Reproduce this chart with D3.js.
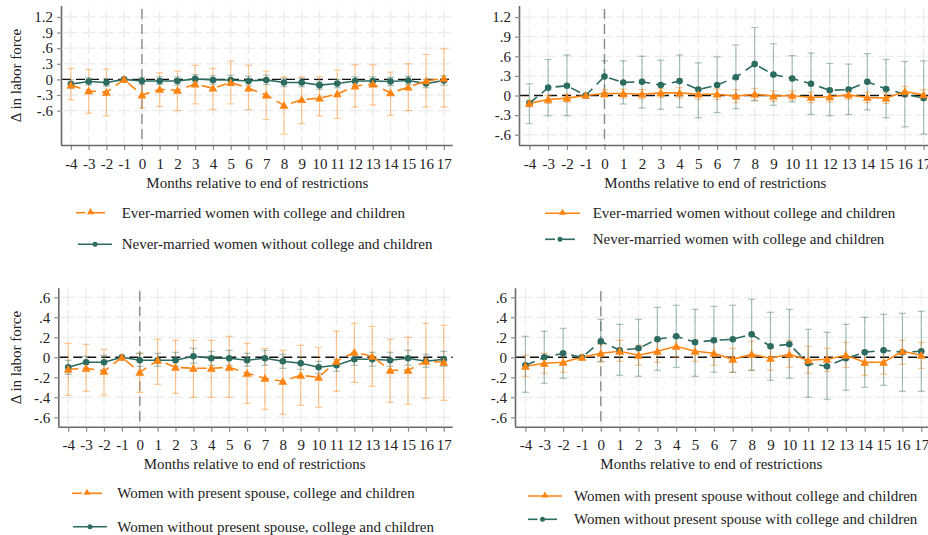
<!DOCTYPE html>
<html>
<head>
<meta charset="utf-8">
<script src="https://cdn.jsdelivr.net/npm/d3@7"></script>
<style>
  body { margin: 0; background: #fff; }
  svg { display: block; font-family: "Liberation Serif", "DejaVu Serif", serif; }
</style>
</head>
<body>
<div id="chart"></div>
<script>
// Event-study plots: change in labor force around end of restrictions

const months = [-4, -3, -2, -1, 0, 1, 2, 3, 4, 5, 6, 7, 8, 9, 10, 11, 12, 13, 14, 15, 16, 17];

const topTicks = [-0.6, -0.3, 0, 0.3, 0.6, 0.9, 1.2];
const topTickLabels = ["-.6", "-.3", "0", ".3", ".6", ".9", "1.2"];
const botTicks = [-0.6, -0.4, -0.2, 0, 0.2, 0.4, 0.6];
const botTickLabels = ["-.6", "-.4", "-.2", "0", ".2", ".4", ".6"];

// Panel 1 (haut gauche)
const p1OrangeEst = [-0.11, -0.22, -0.25, 0, -0.30, -0.19, -0.21, -0.09, -0.17, -0.06, -0.17, -0.30, -0.50, -0.39, -0.36, -0.28, -0.13, -0.09, -0.26, -0.15, -0.03, 0.02];
const p1OrangeLo  = [-0.39, -0.65, -0.70, null, -0.55, -0.52, -0.60, -0.47, -0.58, -0.47, -0.58, -0.77, -1.05, -0.85, -0.70, -0.75, -0.53, -0.49, -0.69, -0.60, -0.53, -0.53];
const p1OrangeHi  = [0.21, 0.19, 0.20, null, -0.03, 0.13, 0.16, 0.27, 0.21, 0.35, 0.27, 0.16, 0.05, 0.05, 0.05, 0.18, 0.28, 0.28, 0.14, 0.30, 0.48, 0.59];
const p1TealEst = [-0.09, -0.04, -0.06, 0, -0.03, -0.03, -0.03, 0.01, -0.01, -0.01, -0.03, -0.01, -0.06, -0.06, -0.11, -0.08, -0.03, -0.03, -0.04, -0.02, -0.08, -0.02];
const p1TealLo  = [-0.17, -0.11, -0.13, null, -0.10, -0.10, -0.11, -0.07, -0.09, -0.09, -0.11, -0.10, -0.14, -0.14, -0.19, -0.16, -0.11, -0.11, -0.12, -0.10, -0.16, -0.11];
const p1TealHi  = [-0.01, 0.03, 0.01, null, 0.04, 0.05, 0.05, 0.09, 0.07, 0.08, 0.06, 0.08, 0.02, 0.02, -0.03, 0.00, 0.05, 0.05, 0.04, 0.06, 0.00, 0.07];

// Panel 2 (haut droite)
const p2OrangeEst = [-0.12, -0.06, -0.04, 0, 0.03, 0.03, 0.02, 0.04, 0.04, 0.02, 0.02, -0.01, 0.02, -0.01, 0.00, -0.03, -0.02, 0.01, -0.03, -0.04, 0.06, 0.01];
const p2OrangeLo  = [-0.17, -0.12, -0.10, null, -0.03, -0.04, -0.05, -0.03, -0.04, -0.06, -0.06, -0.11, -0.07, -0.09, -0.07, -0.11, -0.10, -0.06, -0.11, -0.12, -0.02, -0.07];
const p2OrangeHi  = [-0.07, 0.00, 0.02, null, 0.09, 0.10, 0.09, 0.11, 0.12, 0.10, 0.10, 0.09, 0.11, 0.07, 0.07, 0.05, 0.06, 0.08, 0.05, 0.04, 0.14, 0.09];
const p2TealEst = [-0.12, 0.12, 0.15, 0, 0.29, 0.20, 0.21, 0.16, 0.22, 0.09, 0.16, 0.28, 0.48, 0.32, 0.26, 0.18, 0.08, 0.09, 0.21, 0.10, 0.02, -0.04];
const p2TealLo  = [-0.43, -0.31, -0.31, null, 0.05, -0.13, -0.19, -0.21, -0.18, -0.34, -0.26, -0.20, -0.08, -0.15, -0.10, -0.29, -0.31, -0.29, -0.22, -0.34, -0.48, -0.59];
const p2TealHi  = [0.18, 0.55, 0.62, null, 0.53, 0.53, 0.60, 0.54, 0.62, 0.50, 0.59, 0.77, 1.04, 0.79, 0.61, 0.65, 0.49, 0.48, 0.64, 0.55, 0.52, 0.53];

// Panel 3 (bas gauche)
const p3OrangeEst = [-0.12, -0.11, -0.14, 0, -0.15, -0.03, -0.10, -0.11, -0.11, -0.10, -0.16, -0.21, -0.24, -0.18, -0.20, -0.04, 0.05, 0.01, -0.13, -0.13, -0.04, -0.05];
const p3OrangeLo  = [-0.38, -0.34, -0.38, null, -0.35, -0.27, -0.36, -0.40, -0.40, -0.40, -0.46, -0.52, -0.57, -0.48, -0.50, -0.34, -0.25, -0.29, -0.45, -0.47, -0.41, -0.43];
const p3OrangeHi  = [0.14, 0.13, 0.08, null, 0.04, 0.18, 0.17, 0.17, 0.17, 0.21, 0.14, 0.09, 0.07, 0.12, 0.10, 0.26, 0.34, 0.31, 0.18, 0.20, 0.34, 0.32];
const p3TealEst = [-0.10, -0.05, -0.05, 0, -0.03, -0.03, -0.03, 0.01, -0.01, -0.01, -0.03, -0.01, -0.04, -0.06, -0.10, -0.08, -0.02, -0.02, -0.03, -0.01, -0.04, -0.02];
const p3TealLo  = [-0.17, -0.11, -0.12, null, -0.09, -0.09, -0.09, -0.06, -0.08, -0.08, -0.09, -0.08, -0.11, -0.12, -0.16, -0.14, -0.08, -0.09, -0.09, -0.08, -0.10, -0.09];
const p3TealHi  = [-0.03, 0.01, 0.02, null, 0.04, 0.04, 0.05, 0.09, 0.06, 0.07, 0.04, 0.07, 0.03, 0.00, -0.04, -0.02, 0.05, 0.05, 0.05, 0.07, 0.03, 0.06];

// Panel 4 (bas droite)
const p4OrangeEst = [-0.09, -0.06, -0.05, 0, 0.04, 0.06, 0.02, 0.06, 0.11, 0.06, 0.04, -0.02, 0.03, -0.01, 0.03, -0.03, -0.02, 0.02, -0.05, -0.05, 0.06, 0.02];
const p4OrangeLo  = [-0.19, -0.16, -0.15, null, -0.05, -0.04, -0.08, -0.05, 0.00, -0.04, -0.08, -0.15, -0.13, -0.13, -0.10, -0.16, -0.14, -0.10, -0.18, -0.17, -0.07, -0.11];
const p4OrangeHi  = [0.02, 0.04, 0.05, null, 0.13, 0.17, 0.12, 0.16, 0.22, 0.17, 0.15, 0.09, 0.16, 0.09, 0.17, 0.11, 0.09, 0.15, 0.07, 0.07, 0.17, 0.15];
const p4TealEst = [-0.08, 0.00, 0.04, 0, 0.16, 0.07, 0.09, 0.18, 0.21, 0.15, 0.17, 0.18, 0.23, 0.11, 0.13, -0.06, -0.09, -0.01, 0.05, 0.07, 0.05, 0.06];
const p4TealLo  = [-0.35, -0.26, -0.21, null, -0.04, -0.18, -0.19, -0.13, -0.10, -0.19, -0.15, -0.15, -0.13, -0.23, -0.21, -0.40, -0.42, -0.33, -0.30, -0.28, -0.34, -0.34];
const p4TealHi  = [0.21, 0.26, 0.29, null, 0.38, 0.33, 0.38, 0.50, 0.52, 0.48, 0.51, 0.52, 0.58, 0.45, 0.48, 0.28, 0.25, 0.33, 0.40, 0.43, 0.44, 0.46];

const legend1 = ["Ever-married women with college and children", "Never-married women without college and children"];
const legend2 = ["Ever-married women without college and children", "Never-married women with college and children"];
const legend3 = ["Women with present spouse, college and children", "Women without present spouse, college and children"];
const legend4 = ["Women with present spouse without college and children", "Women without present spouse with college and children"];

const ORANGE = "#ff8412";
const TEAL = "#2c6b60";
const DASH = "10,6";
const FONT = "15px";

const width = 928, height = 535;
const svg = d3.select("#chart").append("svg")
  .attr("width", width)
  .attr("height", height);

function series(est, lo, hi) {
  return months.map((m, i) => ({ m: m, v: est[i], lo: lo[i], hi: hi[i] }));
}

const panels = [
  {
    x0: 62, x1: 452.7, y0: 6, y1: 145, yDom: [-1.26, 1.41],
    ticks: topTicks, tickLabels: topTickLabels, yTitle: true,
    orange: series(p1OrangeEst, p1OrangeLo, p1OrangeHi), orangeDash: true,
    teal: series(p1TealEst, p1TealLo, p1TealHi), tealDash: false,
    legend: legend1, legRows: [212.7, 244.3], keyX: [[76, 105], [78, 112]], textX: 121.7
  },
  {
    x0: 520, x1: 933, y0: 6, y1: 145, yDom: [-0.757, 1.369],
    ticks: topTicks, tickLabels: topTickLabels, yTitle: false,
    orange: series(p2OrangeEst, p2OrangeLo, p2OrangeHi), orangeDash: false,
    teal: series(p2TealEst, p2TealLo, p2TealHi), tealDash: true,
    legend: legend2, legRows: [213.3, 239.3], keyX: [[545, 580], [545, 575]], textX: 592.7
  },
  {
    x0: 59.3, x1: 452.7, y0: 288.3, y1: 426.7, yDom: [-0.694, 0.69],
    ticks: botTicks, tickLabels: botTickLabels, yTitle: true,
    orange: series(p3OrangeEst, p3OrangeLo, p3OrangeHi), orangeDash: true,
    teal: series(p3TealEst, p3TealLo, p3TealHi), tealDash: false,
    legend: legend3, legRows: [493.3, 526.7], keyX: [[72, 102], [73, 107]], textX: 117.3
  },
  {
    x0: 516, x1: 930.7, y0: 288.3, y1: 426.7, yDom: [-0.694, 0.69],
    ticks: botTicks, tickLabels: botTickLabels, yTitle: false,
    orange: series(p4OrangeEst, p4OrangeLo, p4OrangeHi), orangeDash: false,
    teal: series(p4TealEst, p4TealLo, p4TealHi), tealDash: true,
    legend: legend4, legRows: [496, 519.3], keyX: [[528, 562], [528, 557]], textX: 574
  }
];

const triangle = d3.symbol().type(d3.symbolTriangle).size(34);

panels.forEach(drawPanel);

function drawPanel(p) {
  const x = d3.scaleLinear().domain([-4.5, 17.5]).range([p.x0, p.x1]);
  const y = d3.scaleLinear().domain(p.yDom).range([p.y1, p.y0]);
  const g = svg.append("g");
  const stepX = x(1) - x(0);
  const stepY = y(p.ticks[0]) - y(p.ticks[1]);

  // Grille
  g.append("g").selectAll("line")
    .data(months)
    .join("line")
    .attr("x1", d => x(d)).attr("x2", d => x(d))
    .attr("y1", p.y1).attr("y2", p.y0)
    .attr("stroke", "#ececec")
    .attr("stroke-width", 1.3)
    .attr("stroke-dasharray", `${stepY - 4},4`)
    .attr("stroke-dashoffset", (stepY - 4) / 2 - (p.y1 - y(p.ticks[0])) % stepY + stepY);

  g.append("g").selectAll("line")
    .data(p.ticks.filter(t => t !== 0))
    .join("line")
    .attr("x1", p.x0).attr("x2", p.x1)
    .attr("y1", d => y(d)).attr("y2", d => y(d))
    .attr("stroke", "#ececec")
    .attr("stroke-width", 1.3)
    .attr("stroke-dasharray", `${stepX - 4},4`)
    .attr("stroke-dashoffset", (stepX - 4) / 2 - (x(-4) - p.x0) + stepX);

  // Lignes de référence
  g.append("line")
    .attr("x1", p.x0).attr("x2", p.x1)
    .attr("y1", y(0)).attr("y2", y(0))
    .attr("stroke", "#111")
    .attr("stroke-width", 1.4)
    .attr("stroke-dasharray", "9,5");

  g.append("line")
    .attr("x1", x(0)).attr("x2", x(0))
    .attr("y1", p.y0 + 3).attr("y2", p.y1)
    .attr("stroke", "#8a8a8a")
    .attr("stroke-width", 1.4)
    .attr("stroke-dasharray", "10,5");

  // Intervalles de confiance
  [[p.orange, ORANGE, 0.45], [p.teal, TEAL, 0.4]].forEach(([data, color, op]) => {
    const ci = g.append("g")
      .attr("stroke", color)
      .attr("stroke-opacity", op)
      .attr("stroke-width", 1.2)
      .selectAll("g")
      .data(data.filter(d => d.lo !== null))
      .join("g");
    ci.append("line")
      .attr("x1", d => x(d.m)).attr("x2", d => x(d.m))
      .attr("y1", d => y(d.lo)).attr("y2", d => y(d.hi));
    ci.append("line")
      .attr("x1", d => x(d.m) - 3.5).attr("x2", d => x(d.m) + 3.5)
      .attr("y1", d => y(d.lo)).attr("y2", d => y(d.lo));
    ci.append("line")
      .attr("x1", d => x(d.m) - 3.5).attr("x2", d => x(d.m) + 3.5)
      .attr("y1", d => y(d.hi)).attr("y2", d => y(d.hi));
  });

  const line = d3.line().x(d => x(d.m)).y(d => y(d.v));

  // Séries
  g.append("path")
    .datum(p.teal)
    .attr("d", line)
    .attr("fill", "none")
    .attr("stroke", TEAL)
    .attr("stroke-width", 1.6)
    .attr("stroke-dasharray", p.tealDash ? DASH : null);

  g.append("path")
    .datum(p.orange)
    .attr("d", line)
    .attr("fill", "none")
    .attr("stroke", ORANGE)
    .attr("stroke-width", 1.6)
    .attr("stroke-dasharray", p.orangeDash ? DASH : null);

  g.append("g").selectAll("circle")
    .data(p.teal)
    .join("circle")
    .attr("cx", d => x(d.m)).attr("cy", d => y(d.v))
    .attr("r", 3.3)
    .attr("fill", TEAL);

  g.append("g").selectAll("path")
    .data(p.orange)
    .join("path")
    .attr("d", triangle)
    .attr("transform", d => `translate(${x(d.m)},${y(d.v) + 0.8})`)
    .attr("fill", ORANGE);

  // Axes
  const yAxis = d3.axisLeft(y)
    .tickValues(p.ticks)
    .tickFormat((d, i) => p.tickLabels[i])
    .tickSize(5)
    .tickPadding(4);
  const ya = g.append("g").attr("transform", `translate(${p.x0},0)`).call(yAxis);
  ya.select(".domain").attr("d", `M-0.5,${p.y0}V${p.y1}`);

  const xAxis = d3.axisBottom(x)
    .tickValues(months)
    .tickFormat(d => String(d))
    .tickSize(5)
    .tickPadding(8);
  const xa = g.append("g").attr("transform", `translate(0,${p.y1})`).call(xAxis);
  xa.select(".domain").attr("d", `M${p.x0 - 1},0.5H${p.x1}`);

  [ya, xa].forEach(a => {
    a.select(".domain").attr("stroke", "#6a6a6a").attr("stroke-width", 1.6);
    a.selectAll(".tick line").attr("stroke", "#8a8a8a").attr("stroke-width", 1.2);
    a.selectAll(".tick text")
      .attr("fill", "#222")
      .style("font-size", FONT)
      .style("font-family", "'Liberation Serif', serif");
  });
  xa.selectAll(".tick line").attr("y1", 1);

  g.append("text")
    .attr("x", (p.x0 + 452.7 - 62 + p.x0) / 2)
    .attr("y", p.y1 + 42.5)
    .attr("text-anchor", "middle")
    .attr("fill", "#222")
    .style("font-size", FONT)
    .text("Months relative to end of restrictions");

  if (p.yTitle) {
    g.append("text")
      .attr("transform", `translate(21,${(p.y0 + p.y1) / 2}) rotate(-90)`)
      .attr("text-anchor", "middle")
      .attr("fill", "#222")
      .style("font-size", FONT)
      .text("Δ in labor force");
  }

  // Légende
  const keys = [
    { color: ORANGE, dash: p.orangeDash, shape: "tri" },
    { color: TEAL, dash: p.tealDash, shape: "dot" }
  ];
  keys.forEach((k, i) => {
    const ly = p.legRows[i];
    const [kx0, kx1] = p.keyX[i];
    const mid = (kx0 + kx1) / 2;
    if (k.dash) {
      g.append("line").attr("x1", kx0).attr("x2", mid - 5).attr("y1", ly).attr("y2", ly)
        .attr("stroke", k.color).attr("stroke-width", 1.6);
      g.append("line").attr("x1", mid + 2).attr("x2", kx1).attr("y1", ly).attr("y2", ly)
        .attr("stroke", k.color).attr("stroke-width", 1.6);
    } else {
      g.append("line").attr("x1", kx0).attr("x2", kx1).attr("y1", ly).attr("y2", ly)
        .attr("stroke", k.color).attr("stroke-width", 1.6);
    }
    if (k.shape === "tri") {
      g.append("path").attr("d", d3.symbol().type(d3.symbolTriangle).size(22))
        .attr("transform", `translate(${mid},${ly - 0.5})`).attr("fill", k.color);
    } else {
      g.append("circle").attr("cx", mid).attr("cy", ly).attr("r", 2.5).attr("fill", k.color);
    }
    g.append("text")
      .attr("x", p.textX)
      .attr("y", ly + 5)
      .attr("fill", "#222")
      .style("font-size", FONT)
      .text(p.legend[i]);
  });
}
</script>
</body>
</html>
